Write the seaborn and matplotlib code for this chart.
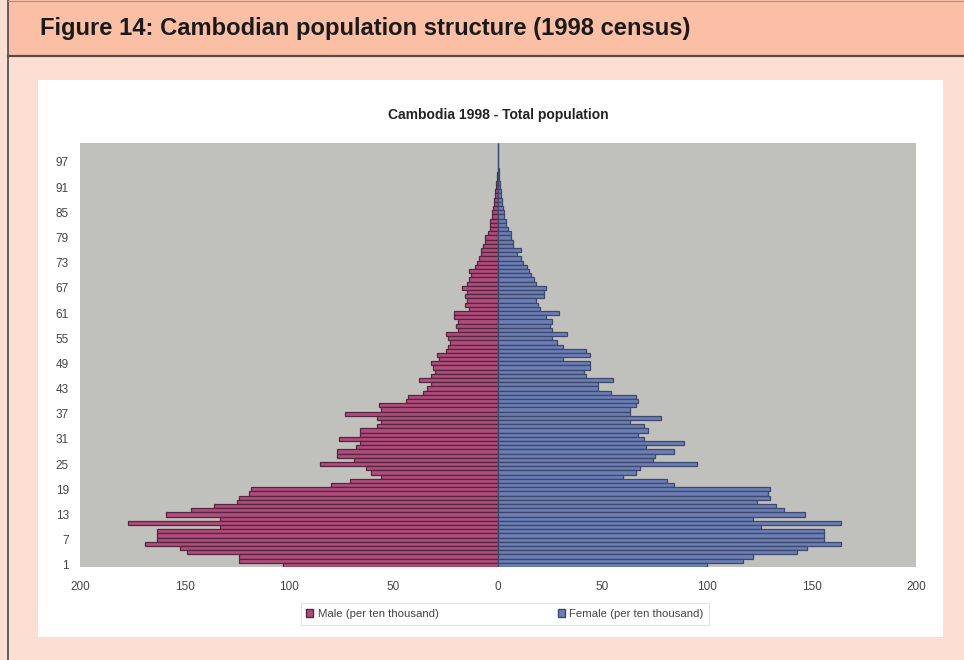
import matplotlib
matplotlib.use("Agg")
import matplotlib.pyplot as plt
from matplotlib.patches import Rectangle, Patch
from matplotlib.lines import Line2D
import seaborn as sns
import pandas as pd

# ages 1..101 (single years)
ages = [str(a) for a in range(1, 102)]

male = [103, 124, 124, 149, 152, 169, 163, 163, 163, 133,
        177, 133, 159, 147, 136, 125, 124, 119, 118, 80,
        71, 56, 61, 63, 85, 69, 77, 77, 68, 66,
        76, 66, 66, 58, 56, 58, 73, 56, 57, 44,
        43, 36, 34, 32, 38, 32, 30, 31, 32, 28,
        29, 25, 24, 23, 24, 25, 19, 20, 19, 21,
        21, 14, 16, 15, 16, 15, 17, 15, 14, 13,
        14, 11, 10, 9, 8, 8, 7, 6, 6, 5,
        4, 4, 4, 3, 3, 2.5, 2, 2, 1.5, 1.2,
        1, 0.8, 0.6, 0.4, 0.2, 0, 0, 0, 0, 0,
        0]

female = [100, 117, 122, 143, 148, 164, 156, 156, 156, 126,
          164, 122, 147, 137, 133, 124, 130, 129, 130, 84,
          81, 60, 66, 68, 95, 74, 75, 84, 71, 89,
          70, 67, 72, 70, 63, 78, 63, 63, 66, 67,
          66, 54, 48, 48, 55, 42, 41, 44, 44, 31,
          44, 42, 31, 28, 26, 33, 26, 25, 26, 23,
          29, 20, 19, 18, 22, 22, 23, 18, 17, 16,
          15, 14, 12, 11, 9, 11, 7, 7, 6, 6,
          5, 4, 4, 3, 3, 2.5, 2, 2, 1.5, 1.2,
          1, 0.8, 0.6, 0.4, 0.3, 0, 0, 0, 0, 0,
          0]

tick_ages = ["1", "7", "13", "19", "25", "31", "37", "43", "49",
             "55", "61", "67", "73", "79", "85", "91", "97"]
x_ticks = [-200, -150, -100, -50, 0, 50, 100, 150, 200]
x_labels = ["200", "150", "100", "50", "0", "50", "100", "150", "200"]

male_color = "#B04C7A"
male_edge = "#55263F"
female_color = "#6C7EB4"
female_edge = "#3C486C"

df = pd.DataFrame({"age": ages, "male": [-v for v in male], "female": female})

sns.set_style("white")
plt.rcParams["font.family"] = ["Liberation Sans", "DejaVu Sans"]

W, H = 964, 660
fig = plt.figure(figsize=(W / 100, H / 100), dpi=100)
fig.patch.set_facecolor("#FDDED3")


def box(x0, y0, x1, y1, **kw):
    # rectangle given in top-left pixel coordinates
    r = Rectangle((x0 / W, 1 - y1 / H), (x1 - x0) / W, (y1 - y0) / H,
                  transform=fig.transFigure, zorder=-5, **kw)
    fig.add_artist(r)


# page frame
box(8, 0, W, 55, facecolor="#FBBFA6", edgecolor="none")
fig.add_artist(Line2D([8 / W, 1], [1 - 55.5 / H] * 2, transform=fig.transFigure,
                      color="#5A4A44", lw=1.6, zorder=-4))
fig.add_artist(Line2D([8 / W, 8 / W], [0, 1], transform=fig.transFigure,
                      color="#555555", lw=1.3, zorder=-4))
fig.add_artist(Line2D([8 / W, 1], [1 - 0.8 / H] * 2, transform=fig.transFigure,
                      color="#999999", lw=0.8, zorder=-4))
box(38, 80, 943, 637, facecolor="white", edgecolor="none")

fig.text(40 / W, 1 - 29 / H, "Figure 14: Cambodian population structure (1998 census)",
         fontsize=17.1, fontweight="bold", color="#1a1a1a", va="center", ha="left")

ax = fig.add_axes([80 / W, 1 - 567 / H, 836 / W, 424 / H])
ax.set_zorder(2)
ax.set_facecolor("#C0C0BC")

order = list(reversed(ages))
sns.barplot(data=df, x="male", y="age", order=order, orient="h", color=male_color,
            saturation=1, width=1.0, edgecolor=male_edge, linewidth=0.9,
            errorbar=None, ax=ax)
sns.barplot(data=df, x="female", y="age", order=order, orient="h", color=female_color,
            saturation=1, width=1.0, edgecolor=female_edge, linewidth=0.9,
            errorbar=None, ax=ax)

ax.set_xlim(-200, 200)
ax.set_ylim(len(ages) - 0.5, -0.5)
ax.set_xticks(x_ticks)
ax.set_xticklabels(x_labels)
ax.set_yticks([order.index(a) for a in tick_ages])
ax.set_yticklabels(tick_ages)
ax.tick_params(axis="both", length=0, labelsize=8.5, labelcolor="#444444")
ax.tick_params(axis="x", pad=10)
ax.tick_params(axis="y", pad=8)
ax.set_xlabel("")
ax.set_ylabel("")
for s in ax.spines.values():
    s.set_visible(False)

ax.set_title("Cambodia 1998 - Total population", fontsize=10, fontweight="bold",
             color="#222222", pad=17)

handles = [Patch(facecolor=male_color, edgecolor=male_edge, label="Male (per ten thousand)"),
           Patch(facecolor=female_color, edgecolor=female_edge, label="Female (per ten thousand)")]
leg = fig.legend(handles=handles, loc="center", bbox_to_anchor=(505 / W, 1 - 614 / H),
                 ncol=2, fontsize=8.2, frameon=True, fancybox=False,
                 handlelength=0.6, handleheight=0.6, handletextpad=0.4,
                 columnspacing=10.5, borderpad=0.5, borderaxespad=0)
leg.set_zorder(3)
leg.get_frame().set_edgecolor("#DDDDDD")
leg.get_frame().set_linewidth(0.8)
for t in leg.get_texts():
    t.set_color("#444444")

fig.savefig("out.png", dpi=100)
